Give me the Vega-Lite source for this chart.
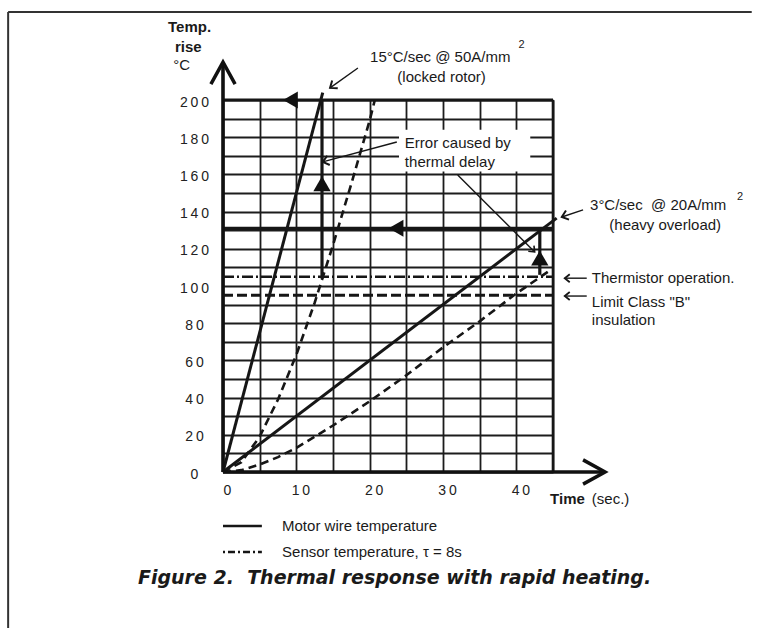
{
  "$schema": "https://vega.github.io/schema/vega-lite/v6.json",
  "width": 330,
  "height": 372,
  "autosize": {"type": "none"},
  "padding": {"left": 223, "top": 100, "right": 209, "bottom": 156},
  "background": "white",
  "config": {"view": {"stroke": null}, "font": "Liberation Sans"},
  "datasets": {
    "motor": [
      {"run": "locked", "t": 0, "v": 0}, {"run": "locked", "t": 13.6, "v": 204},
      {"run": "overload", "t": 0, "v": 0}, {"run": "overload", "t": 45.5, "v": 136.5}
    ],
    "sensor": [
      {"run": "locked", "t": 0, "v": 0}, {"run": "locked", "t": 2.5, "v": 5.3}, {"run": "locked", "t": 5, "v": 19},
      {"run": "locked", "t": 7.5, "v": 39}, {"run": "locked", "t": 10, "v": 63}, {"run": "locked", "t": 12.5, "v": 91},
      {"run": "locked", "t": 15, "v": 122}, {"run": "locked", "t": 17.5, "v": 155}, {"run": "locked", "t": 20, "v": 189},
      {"run": "locked", "t": 20.7, "v": 200},
      {"run": "overload", "t": 0, "v": 0}, {"run": "overload", "t": 2.5, "v": 1}, {"run": "overload", "t": 5, "v": 4},
      {"run": "overload", "t": 7.5, "v": 8}, {"run": "overload", "t": 10, "v": 13}, {"run": "overload", "t": 15, "v": 25},
      {"run": "overload", "t": 20, "v": 38}, {"run": "overload", "t": 25, "v": 52}, {"run": "overload", "t": 30, "v": 67},
      {"run": "overload", "t": 35, "v": 81}, {"run": "overload", "t": 40, "v": 96}, {"run": "overload", "t": 44.8, "v": 109}
    ],
    "thick": [
      {"t": 0, "v": 200, "t2": 45, "v2": 200},
      {"t": 0, "v": 131, "t2": 45, "v2": 131},
      {"t": 13.5, "v": 104, "t2": 13.5, "v2": 200},
      {"t": 43.2, "v": 106, "t2": 43.2, "v2": 130}
    ],
    "edge": [{"t": 45, "v": 0, "t2": 45, "v2": 200}],
    "axes": [
      {"t": 0, "v": 0, "t2": 0, "v2": 220},
      {"t": 0, "v": 0, "t2": 52, "v2": 0}
    ],
    "frame": [
      {"t": -29.3, "v": 247.3, "t2": 72.1, "v2": 247.3},
      {"t": -29.3, "v": 247.3, "t2": -29.3, "v2": -84}
    ],
    "thermistor": [{"t": 0, "v": 105, "t2": 45}],
    "limit": [{"t": 0, "v": 95, "t2": 45}],
    "segs": [
      {"t": 18.4, "v": 217.2, "t2": 14.6, "v2": 206.5},
      {"t": 23.7, "v": 177.4, "t2": 13.6, "v2": 166.7},
      {"t": 32, "v": 159.7, "t2": 42.5, "v2": 118.3},
      {"t": 49.1, "v": 140.9, "t2": 46.2, "v2": 137.1},
      {"t": 49.6, "v": 104.2, "t2": 46.6, "v2": 104.2},
      {"t": 49.6, "v": 94.6, "t2": 46.6, "v2": 94.6}
    ],
    "box": [{"t": 24, "v": 161.5, "t2": 41.9, "v2": 184}],
    "legendSolid": [{"t": 0, "v": -29, "t2": 5.3}],
    "legendDash": [{"t": 0, "v": -43, "t2": 5.3}],
    "textLeft": [
      {"t": 20.05, "v": 223.3, "label": "15°C/sec @ 50A/mm"},
      {"t": 50.05, "v": 143.5, "label": "3°C/sec\u00a0 @ 20A/mm"},
      {"t": 24.8, "v": 176.9, "label": "Error caused by"},
      {"t": 24.8, "v": 166.7, "label": "thermal delay"},
      {"t": 50.3, "v": 104.1, "label": "Thermistor operation."},
      {"t": 50.3, "v": 91.2, "label": "Limit Class \"B\""},
      {"t": 50.3, "v": 81.7, "label": "insulation"},
      {"t": 8.05, "v": -29, "label": "Motor wire temperature"},
      {"t": 8.05, "v": -43, "label": "Sensor temperature, τ = 8s"},
      {"t": 50.3, "v": -14.5, "label": "(sec.)"},
      {"t": -6.8, "v": 218.8, "label": "°C"}
    ],
    "textCenter": [
      {"t": 29.8, "v": 212.5, "label": "(locked rotor)"},
      {"t": 60.3, "v": 132.8, "label": "(heavy overload)"}
    ],
    "textSup": [
      {"t": 40.7, "v": 229.6, "label": "2"},
      {"t": 70.5, "v": 148, "label": "2"}
    ],
    "textBold": [
      {"t": -7.5, "v": 239.2, "label": "Temp."},
      {"t": -6.55, "v": 228.5, "label": "rise"},
      {"t": 44.6, "v": -14.5, "label": "Time"}
    ],
    "title": [{"t": 23.4, "v": -57, "label": "Figure 2.\u00a0 Thermal response with rapid heating."}],
    "triLeft": [{"t": 9.2, "v": 200}, {"t": 23.6, "v": 131}],
    "triUp": [{"t": 13.5, "v": 155}, {"t": 43.2, "v": 115}]
  },
  "encoding": {
    "x": {"field": "t", "type": "quantitative",
      "scale": {"domain": [0, 45], "nice": false, "zero": false},
      "axis": {"values": [0, 5, 10, 15, 20, 25, 30, 35, 40, 45], "grid": true, "gridColor": "#1c1c1c", "gridWidth": 1.8, "gridOpacity": 1,
        "domain": false, "ticks": false, "title": null,
        "labelExpr": "datum.value % 10 == 0 ? join(split(datum.label, ''), '\u2009') : ''",
        "labelFont": "Liberation Sans", "labelFontSize": 14, "labelColor": "#222", "labelPadding": 11, "labelOffset": 4,
        "labelBaseline": "top", "labelFlush": false, "labelOverlap": false}},
    "y": {"field": "v", "type": "quantitative",
      "scale": {"domain": [0, 200], "nice": false, "zero": false},
      "axis": {"values": [0, 10, 20, 30, 40, 50, 60, 70, 80, 90, 100, 110, 120, 130, 140, 150, 160, 170, 180, 190, 200], "grid": true, "gridColor": "#1c1c1c", "gridWidth": 1.8, "gridOpacity": 1,
        "domain": false, "ticks": false, "title": null,
        "labelExpr": "datum.value % 20 == 0 ? join(split(datum.label, ''), '\u2009') : ''",
        "labelFont": "Liberation Sans", "labelFontSize": 14, "labelColor": "#222", "labelPadding": 29, "labelAlign": "center",
        "labelBaseline": "middle", "labelOffset": 2, "labelFlush": false, "labelOverlap": false}}
  },
  "layer": [
    {
      "data": {"name": "box"},
      "mark": {"type": "rect", "color": "white"},
      "encoding": {"x2": {"field": "t2"}, "y2": {"field": "v2"}}
    },
    {
      "data": {"name": "motor"},
      "mark": {"type": "line", "color": "#161616", "strokeWidth": 3},
      "encoding": {"detail": {"field": "run"}}
    },
    {
      "data": {"name": "sensor"},
      "mark": {"type": "line", "color": "#161616", "strokeWidth": 2.6, "strokeDash": [8, 5]},
      "encoding": {"detail": {"field": "run"}}
    },
    {
      "data": {"name": "thick"},
      "mark": {"type": "rule", "color": "#161616", "strokeWidth": 3.2},
      "encoding": {"x2": {"field": "t2"}, "y2": {"field": "v2"}}
    },
    {
      "data": {"name": "edge"},
      "mark": {"type": "rule", "color": "#161616", "strokeWidth": 2.6},
      "encoding": {"x2": {"field": "t2"}, "y2": {"field": "v2"}}
    },
    {
      "data": {"name": "axes"},
      "mark": {"type": "rule", "color": "#111", "strokeWidth": 3.6},
      "encoding": {"x2": {"field": "t2"}, "y2": {"field": "v2"}}
    },
    {
      "data": {"name": "frame"},
      "mark": {"type": "rule", "color": "#333", "strokeWidth": 2},
      "encoding": {"x2": {"field": "t2"}, "y2": {"field": "v2"}}
    },
    {
      "data": {"name": "thermistor"},
      "mark": {"type": "rule", "color": "#161616", "strokeWidth": 2.6, "strokeDash": [11, 3, 2, 3]},
      "encoding": {"x2": {"field": "t2"}}
    },
    {
      "data": {"name": "limit"},
      "mark": {"type": "rule", "color": "#161616", "strokeWidth": 3, "strokeDash": [10, 4]},
      "encoding": {"x2": {"field": "t2"}}
    },
    {
      "data": {"name": "segs"},
      "mark": {"type": "rule", "color": "#161616", "strokeWidth": 1.4},
      "encoding": {"x2": {"field": "t2"}, "y2": {"field": "v2"}}
    },
    {
      "data": {"values": [{"t": 14.6, "v": 206.5}]},
      "mark": {"type": "point", "shape": "M-1,-0.8L0,0L-1,0.8", "size": 144, "angle": 144.5, "filled": false, "stroke": "#161616", "strokeWidth": 2, "opacity": 1}
    },
    {
      "data": {"values": [{"t": 13.6, "v": 166.7}]},
      "mark": {"type": "point", "shape": "M-1,-0.8L0,0L-1,0.8", "size": 144, "angle": 165, "filled": false, "stroke": "#161616", "strokeWidth": 2, "opacity": 1}
    },
    {
      "data": {"values": [{"t": 42.5, "v": 118.3}]},
      "mark": {"type": "point", "shape": "M-1,-0.8L0,0L-1,0.8", "size": 100, "angle": 45, "filled": false, "stroke": "#161616", "strokeWidth": 1.6, "opacity": 1}
    },
    {
      "data": {"values": [{"t": 46.2, "v": 137.1}]},
      "mark": {"type": "point", "shape": "M-1,-0.8L0,0L-1,0.8", "size": 144, "angle": 161.6, "filled": false, "stroke": "#161616", "strokeWidth": 2, "opacity": 1}
    },
    {
      "data": {"values": [{"t": 46.6, "v": 104.2}, {"t": 46.6, "v": 94.6}]},
      "mark": {"type": "point", "shape": "M-1,-0.8L0,0L-1,0.8", "size": 100, "angle": 180, "filled": false, "stroke": "#161616", "strokeWidth": 1.8, "opacity": 1}
    },
    {
      "data": {"values": [{"t": 0, "v": 220.4}]},
      "mark": {"type": "point", "shape": "M-1,-0.55L0,0L-1,0.55", "size": 1936, "angle": 270, "filled": false, "stroke": "#111", "strokeWidth": 3.5, "opacity": 1, "strokeJoin": "miter"}
    },
    {
      "data": {"values": [{"t": 52.1, "v": 0}]},
      "mark": {"type": "point", "shape": "M-1,-0.55L0,0L-1,0.55", "size": 1936, "angle": 0, "filled": false, "stroke": "#111", "strokeWidth": 3.5, "opacity": 1, "strokeJoin": "miter"}
    },
    {
      "data": {"name": "triLeft"},
      "mark": {"type": "point", "shape": "triangle-left", "size": 290, "filled": true, "color": "#111", "opacity": 1}
    },
    {
      "data": {"name": "triUp"},
      "mark": {"type": "point", "shape": "triangle-up", "size": 300, "filled": true, "color": "#111", "opacity": 1}
    },
    {
      "data": {"name": "legendSolid"},
      "mark": {"type": "rule", "color": "#161616", "strokeWidth": 2.6},
      "encoding": {"x2": {"field": "t2"}}
    },
    {
      "data": {"name": "legendDash"},
      "mark": {"type": "rule", "color": "#161616", "strokeWidth": 2.6, "strokeDash": [2, 3, 7, 3]},
      "encoding": {"x2": {"field": "t2"}}
    },
    {
      "data": {"name": "textLeft"},
      "mark": {"type": "text", "align": "left", "baseline": "middle", "font": "Liberation Sans", "fontSize": 15, "color": "#1a1a1a"},
      "encoding": {"text": {"field": "label"}}
    },
    {
      "data": {"name": "textCenter"},
      "mark": {"type": "text", "align": "center", "baseline": "middle", "font": "Liberation Sans", "fontSize": 15, "color": "#1a1a1a"},
      "encoding": {"text": {"field": "label"}}
    },
    {
      "data": {"name": "textSup"},
      "mark": {"type": "text", "align": "center", "baseline": "middle", "font": "Liberation Sans", "fontSize": 11, "color": "#1a1a1a"},
      "encoding": {"text": {"field": "label"}}
    },
    {
      "data": {"name": "textBold"},
      "mark": {"type": "text", "align": "left", "baseline": "middle", "font": "Liberation Sans", "fontSize": 15, "fontWeight": "bold", "color": "#1a1a1a"},
      "encoding": {"text": {"field": "label"}}
    },
    {
      "data": {"name": "title"},
      "mark": {"type": "text", "align": "center", "baseline": "middle", "font": "DejaVu Sans", "fontSize": 19, "fontWeight": "bold", "fontStyle": "italic", "color": "#1a1a1a"},
      "encoding": {"text": {"field": "label"}}
    }
  ]
}
